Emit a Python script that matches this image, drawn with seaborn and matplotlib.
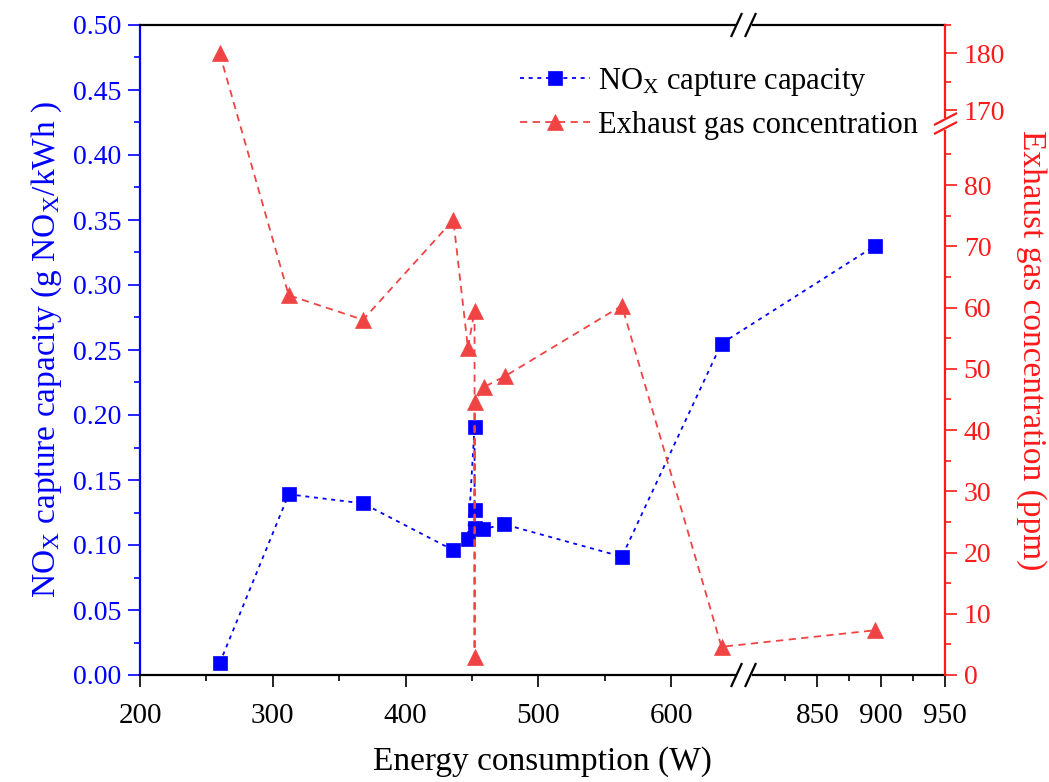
import numpy as np
import matplotlib
matplotlib.use("Agg")
import matplotlib.pyplot as plt
from matplotlib.lines import Line2D
from matplotlib.ticker import FixedLocator, FormatStrFormatter, NullFormatter
import seaborn as sns

# ---- data -------------------------------------------------------------
# NOx capture capacity (g NOx/kWh) vs. energy consumption (W), run order
energy_nox = [260, 312, 368, 436, 447, 452, 452, 452, 458, 474, 563, 638, 895]
nox_capacity = [0.009, 0.139, 0.132, 0.096, 0.105, 0.191, 0.127, 0.113,
                0.112, 0.116, 0.091, 0.255, 0.330]

# Exhaust gas concentration (ppm) vs. energy consumption (W), run order
energy_gas = [260, 312, 368, 436, 447, 452, 452, 452, 459, 475, 563, 638, 895]
gas_ppm = [180, 62, 58, 74.3, 53.4, 59.5, 3, 44.6, 47, 48.8, 60.3, 4.6, 7.3]

x_major = [200, 300, 400, 500, 600, 850, 900, 950]
x_minor = [250, 350, 450, 550, 825, 875, 925]
y_left_major = [0.00, 0.05, 0.10, 0.15, 0.20, 0.25, 0.30, 0.35, 0.40, 0.45, 0.50]
y_right_major = [0, 10, 20, 30, 40, 50, 60, 70, 80, 170, 180]
y_right_minor = [5, 15, 25, 35, 45, 55, 65, 75, 85, 175, 185]

# ---- style ------------------------------------------------------------
sns.set_style("ticks")
plt.rcParams["font.family"] = ["Liberation Serif", "DejaVu Serif"]
plt.rcParams["mathtext.fontset"] = "custom"
plt.rcParams["mathtext.rm"] = "Liberation Serif"
plt.rcParams["mathtext.it"] = "Liberation Serif:italic"
plt.rcParams["text.color"] = "black"
plt.rcParams["axes.labelcolor"] = "black"

BLUE = "#0000ff"
RED_AX = "#ff1a1a"
RED = "#f04444"


def piecewise(xp, fp):
    """Monotone piecewise-linear scale (for broken axes)."""
    xp = np.asarray(xp, float)
    fp = np.asarray(fp, float)

    def _map(v, a, b):
        v = np.asarray(v, float)
        flat = np.atleast_1d(v).astype(float)
        out = np.interp(flat, a, b)
        lo = flat < a[0]
        hi = flat > a[-1]
        out[lo] = b[0] + (flat[lo] - a[0]) * (b[1] - b[0]) / (a[1] - a[0])
        out[hi] = b[-1] + (flat[hi] - a[-1]) * (b[-1] - b[-2]) / (a[-1] - a[-2])
        return out.reshape(v.shape)

    return (lambda v: _map(v, xp, fp)), (lambda v: _map(v, fp, xp))


# x axis: 200-655.7 W, break, 793.75-950 W
x_fwd, x_inv = piecewise([200, 655.7, 793.75, 950], [0, 605, 605.5, 805])
# right y axis: 0-89.8 ppm, break, 167.5-185 ppm
y_fwd, y_inv = piecewise([0, 89.8, 167.5, 185], [0, 550, 550.5, 650])

W, H = 1049, 782
fig = plt.figure(figsize=(W / 100, H / 100), dpi=100)
ax = fig.add_axes([140 / W, 1 - 675 / H, 805 / W, 650 / H])
ax.set_xscale("function", functions=(x_fwd, x_inv))
ax2 = ax.twinx()
ax2.set_yscale("function", functions=(y_fwd, y_inv))

sns.lineplot(x=energy_nox, y=nox_capacity, ax=ax, sort=False, estimator=None,
             color=BLUE, marker="s", markersize=9.5, markeredgecolor=BLUE,
             markeredgewidth=0.5, linewidth=1.3, linestyle=(0, (2.2, 2.6)),
             label=r"NO$_\mathrm{X}$ capture capacity", legend=False, zorder=3)
sns.lineplot(x=energy_gas, y=gas_ppm, ax=ax2, sort=False, estimator=None,
             color=RED, marker="^", markersize=12, markeredgecolor=RED,
             markeredgewidth=0.5, linewidth=1.3, linestyle=(0, (4, 3)),
             label="Exhaust gas concentration", legend=False, zorder=3)

ax.set_xlim(200, 950)
ax.set_ylim(0, 0.5)
ax2.set_ylim(0, 185)

# ticks
ax.xaxis.set_major_locator(FixedLocator(x_major))
ax.xaxis.set_minor_locator(FixedLocator(x_minor))
ax.xaxis.set_major_formatter(FormatStrFormatter("%d"))
ax.xaxis.set_minor_formatter(NullFormatter())
ax.yaxis.set_major_locator(FixedLocator(y_left_major))
ax.yaxis.set_minor_locator(FixedLocator(np.arange(0.025, 0.5, 0.05)))
ax.yaxis.set_major_formatter(FormatStrFormatter("%.2f"))
ax2.yaxis.set_major_locator(FixedLocator(y_right_major))
ax2.yaxis.set_minor_locator(FixedLocator(y_right_minor))
ax2.yaxis.set_major_formatter(FormatStrFormatter("%d"))
ax2.yaxis.set_minor_formatter(NullFormatter())

ax.tick_params(axis="x", which="major", direction="out", length=8.5, width=1.2,
               labelsize=21, colors="black", pad=12)
ax.tick_params(axis="x", which="minor", direction="out", length=4.5, width=1.2,
               colors="black")
ax.tick_params(axis="y", which="major", direction="out", length=8.5, width=1.2,
               labelsize=20, colors=BLUE, pad=5)
ax.tick_params(axis="y", which="minor", direction="out", length=4.5, width=1.2,
               colors=BLUE)
ax2.tick_params(axis="y", which="major", direction="out", length=8.5, width=1.2,
                labelsize=20, colors=RED_AX, pad=5)
ax2.tick_params(axis="y", which="minor", direction="out", length=4.5, width=1.2,
                colors=RED_AX)

for side in ("top", "bottom"):
    ax.spines[side].set_color("black")
    ax.spines[side].set_linewidth(1.6)
ax.spines["left"].set_color(BLUE)
ax.spines["left"].set_linewidth(1.6)
ax.spines["right"].set_visible(False)
for side in ("top", "bottom", "left"):
    ax2.spines[side].set_visible(False)
ax2.spines["right"].set_color(RED_AX)
ax2.spines["right"].set_linewidth(1.6)

ax.set_xlabel("Energy consumption (W)", fontsize=24, labelpad=12, color="black")
ax.set_ylabel(r"NO$_\mathrm{X}$ capture capacity (g NO$_\mathrm{X}$/kWh )",
              fontsize=24, color=BLUE, labelpad=6)
ax2.set_ylabel("Exhaust gas concentration (ppm)", fontsize=24, color=RED_AX,
               rotation=270, labelpad=30)

# legend
h1, l1 = ax.get_legend_handles_labels()
h2, l2 = ax2.get_legend_handles_labels()
leg = ax2.legend(h1 + h2, l1 + l2, loc="upper left",
                 bbox_to_anchor=(514 / W, 1 - 60 / H),
                 bbox_transform=fig.transFigure,
                 frameon=False, fontsize=22, handlelength=2.3,
                 handletextpad=0.25, labelspacing=0.42, borderaxespad=0,
                 borderpad=0.2)
for t in leg.get_texts():
    t.set_color("black")


# ---- axis break marks ---------------------------------------------------
def fpt(px, py):
    return px / W, 1 - py / H


def seg(p0, p1, color, lw=1.6, z=10):
    (x0, y0), (x1, y1) = fpt(*p0), fpt(*p1)
    fig.add_artist(Line2D([x0, x1], [y0, y1], color=color, lw=lw, zorder=z,
                          solid_capstyle="butt"))


for yb in (25, 675):
    seg((737, yb), (752, yb), "white", lw=4, z=9)
    seg((731, yb + 12), (742, yb - 12), "black")
    seg((745, yb + 12), (756, yb - 12), "black")

seg((945, 118), (945, 130), "white", lw=4, z=9)
seg((934, 125), (957, 113), RED_AX)
seg((934, 134), (957, 122), RED_AX)

fig.savefig("out.png", dpi=100)
